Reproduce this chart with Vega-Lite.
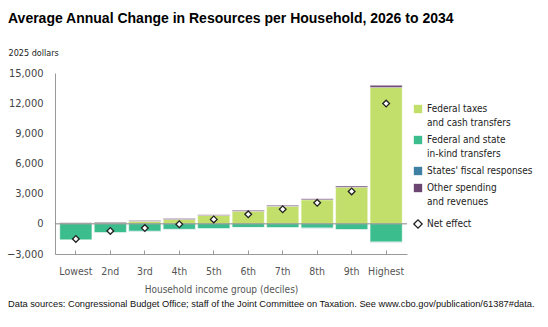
{
  "$schema": "https://vega.github.io/schema/vega-lite/v6.json",
  "padding": {"left": 6, "top": 12, "right": 5, "bottom": 5},
  "background": "white",
  "title": {
    "text": "Average Annual Change in Resources per Household, 2026 to 2034",
    "anchor": "start",
    "frame": "group",
    "font": "Liberation Sans",
    "fontSize": 14,
    "fontWeight": "bold",
    "color": "#000000",
    "dx": -47,
    "offset": 22
  },
  "config": {
    "view": {"stroke": null},
    "concat": {"spacing": 0},
    "font": "DejaVu Sans Condensed",
    "axisY": {"labelOverlap": false},
    "style": {"guide-label": {"lineHeight": 14}}
  },
  "datasets": {
    "bars": [
      {"group": "Lowest", "component": "Federal taxes and cash transfers", "ord": 1, "value": 50},
      {"group": "Lowest", "component": "Federal and state in-kind transfers", "ord": 2, "value": -1600},
      {"group": "Lowest", "component": "States' fiscal responses", "ord": 3, "value": -10},
      {"group": "Lowest", "component": "Other spending and revenues", "ord": 4, "value": 60},
      {"group": "2nd", "component": "Federal taxes and cash transfers", "ord": 1, "value": 120},
      {"group": "2nd", "component": "Federal and state in-kind transfers", "ord": 2, "value": -880},
      {"group": "2nd", "component": "States' fiscal responses", "ord": 3, "value": -10},
      {"group": "2nd", "component": "Other spending and revenues", "ord": 4, "value": 60},
      {"group": "3rd", "component": "Federal taxes and cash transfers", "ord": 1, "value": 250},
      {"group": "3rd", "component": "Federal and state in-kind transfers", "ord": 2, "value": -740},
      {"group": "3rd", "component": "States' fiscal responses", "ord": 3, "value": -10},
      {"group": "3rd", "component": "Other spending and revenues", "ord": 4, "value": 70},
      {"group": "4th", "component": "Federal taxes and cash transfers", "ord": 1, "value": 440},
      {"group": "4th", "component": "Federal and state in-kind transfers", "ord": 2, "value": -550},
      {"group": "4th", "component": "States' fiscal responses", "ord": 3, "value": -10},
      {"group": "4th", "component": "Other spending and revenues", "ord": 4, "value": 80},
      {"group": "5th", "component": "Federal taxes and cash transfers", "ord": 1, "value": 830},
      {"group": "5th", "component": "Federal and state in-kind transfers", "ord": 2, "value": -480},
      {"group": "5th", "component": "States' fiscal responses", "ord": 3, "value": -10},
      {"group": "5th", "component": "Other spending and revenues", "ord": 4, "value": 85},
      {"group": "6th", "component": "Federal taxes and cash transfers", "ord": 1, "value": 1250},
      {"group": "6th", "component": "Federal and state in-kind transfers", "ord": 2, "value": -360},
      {"group": "6th", "component": "States' fiscal responses", "ord": 3, "value": -10},
      {"group": "6th", "component": "Other spending and revenues", "ord": 4, "value": 90},
      {"group": "7th", "component": "Federal taxes and cash transfers", "ord": 1, "value": 1740},
      {"group": "7th", "component": "Federal and state in-kind transfers", "ord": 2, "value": -380},
      {"group": "7th", "component": "States' fiscal responses", "ord": 3, "value": -10},
      {"group": "7th", "component": "Other spending and revenues", "ord": 4, "value": 100},
      {"group": "8th", "component": "Federal taxes and cash transfers", "ord": 1, "value": 2390},
      {"group": "8th", "component": "Federal and state in-kind transfers", "ord": 2, "value": -420},
      {"group": "8th", "component": "States' fiscal responses", "ord": 3, "value": -10},
      {"group": "8th", "component": "Other spending and revenues", "ord": 4, "value": 110},
      {"group": "9th", "component": "Federal taxes and cash transfers", "ord": 1, "value": 3640},
      {"group": "9th", "component": "Federal and state in-kind transfers", "ord": 2, "value": -570},
      {"group": "9th", "component": "States' fiscal responses", "ord": 3, "value": -10},
      {"group": "9th", "component": "Other spending and revenues", "ord": 4, "value": 120},
      {"group": "Highest", "component": "Federal taxes and cash transfers", "ord": 1, "value": 13570},
      {"group": "Highest", "component": "Federal and state in-kind transfers", "ord": 2, "value": -1810},
      {"group": "Highest", "component": "States' fiscal responses", "ord": 3, "value": -10},
      {"group": "Highest", "component": "Other spending and revenues", "ord": 4, "value": 200}
    ],
    "net": [
      {"group": "Lowest", "series": "Net effect", "net": -1500},
      {"group": "2nd", "series": "Net effect", "net": -710},
      {"group": "3rd", "series": "Net effect", "net": -420},
      {"group": "4th", "series": "Net effect", "net": -40},
      {"group": "5th", "series": "Net effect", "net": 440},
      {"group": "6th", "series": "Net effect", "net": 950},
      {"group": "7th", "series": "Net effect", "net": 1450},
      {"group": "8th", "series": "Net effect", "net": 2090},
      {"group": "9th", "series": "Net effect", "net": 3220},
      {"group": "Highest", "series": "Net effect", "net": 11960}
    ],
    "zero": [{"z": 0}]
  },
  "vconcat": [
    {
      "width": 352,
      "height": 181,
      "title": {
        "text": "Data sources: Congressional Budget Office; staff of the Joint Committee on Taxation. See www.cbo.gov/publication/61387#data.",
        "orient": "bottom",
        "anchor": "start",
        "frame": "group",
        "font": "Liberation Sans",
        "fontSize": 9.3,
        "fontWeight": "normal",
        "color": "#111111",
        "dx": -47,
        "offset": 5
      },
      "layer": [
        {
          "data": {"name": "bars"},
          "mark": {"type": "bar", "stroke": "#ffffff", "strokeWidth": 0.4},
          "encoding": {
            "x": {
              "field": "group",
              "type": "nominal",
              "sort": ["Lowest", "2nd", "3rd", "4th", "5th", "6th", "7th", "8th", "9th", "Highest"],
              "scale": {"paddingInner": 0.07, "paddingOuter": 0.14},
              "axis": {
                "title": "Household income group (deciles)",
                "titleFontSize": 10,
                "titleFontWeight": "normal",
                "titleColor": "#555555",
                "titlePadding": 8,
                "titleX": 166,
                "labelAngle": 0,
                "labelFontSize": 10.5,
                "labelColor": "#555555",
                "labelPadding": 16,
                "domainColor": "#999999",
                "tickColor": "#999999",
                "tickSize": -4
              }
            },
            "y": {
              "field": "value",
              "type": "quantitative",
              "stack": "zero",
              "scale": {"domain": [-3000, 15000], "nice": false},
              "axis": {
                "values": [-3000, 0, 3000, 6000, 9000, 12000, 15000],
                "tickCount": 7,
                "format": ",d",
                "grid": false,
                "ticks": false,
                "labelOverlap": false,
                "labelFontSize": 11,
                "labelColor": "#444444",
                "labelPadding": 12,
                "domainColor": "#999999",
                "title": "2025 dollars",
                "titleAngle": 0,
                "titleAlign": "left",
                "titleBaseline": "middle",
                "titleX": -47,
                "titleY": -21,
                "titleFont": "DejaVu Sans Condensed",
                "titleFontSize": 9,
                "titleFontWeight": "normal",
                "titleColor": "#222222"
              }
            },
            "color": {
              "field": "component",
              "type": "nominal",
              "scale": {
                "domain": ["Federal taxes and cash transfers", "Federal and state in-kind transfers", "States' fiscal responses", "Other spending and revenues"],
                "range": ["#c1df6a", "#3cbd8e", "#3e80a3", "#6b4670"]
              },
              "legend": {
                "orient": "none",
                "legendX": 358,
                "legendY": 31,
                "title": null,
                "symbolType": "square",
                "symbolSize": 70,
                "symbolStrokeWidth": 0,
                "labelFontSize": 10,
                "labelColor": "#222222",
                "labelOffset": 4,
                "rowPadding": 7,
                "labelLimit": 200,
                "labelExpr": "datum.label == 'Federal taxes and cash transfers' ? ['Federal taxes', 'and cash transfers'] : datum.label == 'Federal and state in-kind transfers' ? ['Federal and state', 'in-kind transfers'] : datum.label == 'Other spending and revenues' ? ['Other spending', 'and revenues'] : datum.label"
              }
            },
            "order": {"field": "ord", "type": "quantitative"}
          }
        },
        {
          "data": {"name": "zero"},
          "mark": {"type": "rule", "color": "#888888", "strokeWidth": 1},
          "encoding": {"y": {"field": "z", "type": "quantitative"}}
        },
        {
          "data": {"name": "net"},
          "mark": {"type": "point", "shape": "diamond", "filled": false, "fill": "#ffffff", "strokeWidth": 1.3, "size": 45, "opacity": 1},
          "encoding": {
            "x": {
              "field": "group",
              "type": "nominal",
              "sort": ["Lowest", "2nd", "3rd", "4th", "5th", "6th", "7th", "8th", "9th", "Highest"]
            },
            "y": {"field": "net", "type": "quantitative"},
            "stroke": {
              "field": "series",
              "type": "nominal",
              "scale": {"domain": ["Net effect"], "range": ["#222222"]},
              "legend": {
                "orient": "none",
                "legendX": 358,
                "legendY": 146,
                "title": null,
                "symbolType": "diamond",
                "symbolFillColor": "#ffffff",
                "symbolStrokeWidth": 1.3,
                "symbolSize": 70,
                "labelFontSize": 10,
                "labelColor": "#222222",
                "labelOffset": 4
              }
            }
          }
        }
      ]
    }
  ]
}
